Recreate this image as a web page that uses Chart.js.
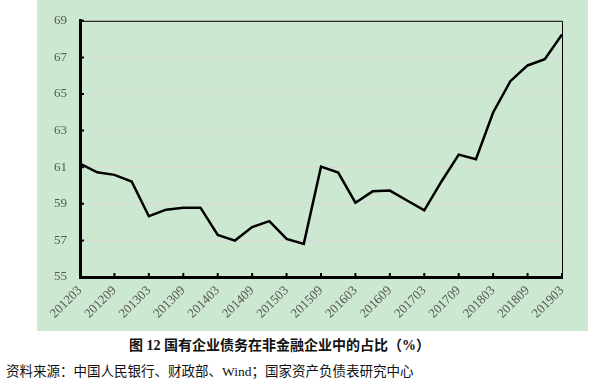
<!DOCTYPE html>
<html>
<head>
<meta charset="utf-8">
<script src="https://cdn.jsdelivr.net/npm/chart.js@4"></script>
<style>
  body { margin: 0; width: 616px; height: 386px; background: #fff; position: relative; overflow: hidden; }
  #box { position: absolute; left: 37px; top: 0; width: 551px; height: 331px; background: #cde8d0; }
  #cap { position: absolute; left: 129px; top: 334px; font: bold 14px "Liberation Serif", "Noto Sans CJK SC"; color: #111; white-space: nowrap; }
  #src { position: absolute; left: 6px; top: 360px; font: 13.5px "Liberation Serif", "Noto Sans CJK SC"; color: #111; white-space: nowrap; }
</style>
</head>
<body>
<div id="box"><canvas id="shareChart" width="551" height="331"></canvas></div>
<div id="cap">图 12 国有企业债务在非金融企业中的占比（%）</div>
<div id="src">资料来源：中国人民银行、财政部、Wind；国家资产负债表研究中心</div>
<script>
// quarterly, 201203 .. 201903
const quarters = [
  "201203", "201206", "201209", "201212", "201303", "201306", "201309", "201312",
  "201403", "201406", "201409", "201412", "201503", "201506", "201509", "201512",
  "201603", "201606", "201609", "201612", "201703", "201706", "201709", "201712",
  "201803", "201806", "201809", "201812", "201903"
];
const soeShare = [
  61.2, 60.72, 60.58, 60.22, 58.32, 58.68, 58.79, 58.79,
  57.3, 56.99, 57.73, 58.05, 57.08, 56.81, 61.03, 60.71,
  59.06, 59.68, 59.72, 59.18, 58.64, 60.22, 61.69, 61.44,
  63.99, 65.7, 66.56, 66.9, 68.25
];
const yMin = 55, yMax = 69, yStep = 2;

// thin top/right frame + short inward tick marks
const frame = {
  id: 'frame',
  afterDatasetsDraw(chart) {
    const { ctx, chartArea: a, scales } = chart;
    ctx.save();
    ctx.strokeStyle = '#000';
    ctx.lineWidth = 1;
    ctx.beginPath();
    ctx.moveTo(a.left, a.top + 0.5);
    ctx.lineTo(a.right + 0.5, a.top + 0.5);
    ctx.lineTo(a.right + 0.5, a.bottom);
    ctx.stroke();
    ctx.lineWidth = 2;
    ctx.beginPath();
    for (let v = yMin; v <= yMax; v += yStep) {
      const y = scales.y.getPixelForValue(v);
      ctx.moveTo(a.left, y);
      ctx.lineTo(a.left + 4, y);
    }
    for (let i = 0; i < quarters.length; i += 2) {
      const x = scales.x.getPixelForValue(i);
      ctx.moveTo(x, a.bottom);
      ctx.lineTo(x, a.bottom - 4);
    }
    ctx.stroke();
    ctx.restore();
  }
};

new Chart(document.getElementById('shareChart'), {
  type: 'line',
  data: {
    labels: quarters,
    datasets: [{
      data: soeShare,
      borderColor: '#000',
      borderWidth: 2.5,
      pointRadius: 0,
      tension: 0,
      fill: false
    }]
  },
  options: {
    responsive: false,
    animation: false,
    layout: { padding: { top: 17, right: 26, left: 0, bottom: 0 } },
    plugins: { legend: { display: false }, tooltip: { enabled: false } },
    scales: {
      x: {
        offset: false,
        grid: { display: false, drawTicks: false },
        border: { color: '#000', width: 3 },
        ticks: {
          autoSkip: false,
          maxRotation: 45,
          minRotation: 45,
          padding: 6,
          color: '#555',
          font: { family: 'Liberation Serif', size: 13 },
          callback: (v, i) => (i % 2 === 0 ? quarters[i] : '')
        },
        afterFit: s => { s.height = 54; }
      },
      y: {
        min: yMin,
        max: yMax,
        grid: { color: '#d9d9d9', lineWidth: 1, drawTicks: false },
        border: { color: '#000', width: 3 },
        ticks: {
          stepSize: yStep,
          padding: 13,
          color: '#555',
          font: { family: 'Liberation Serif', size: 13 }
        },
        afterFit: s => { s.width = 43; }
      }
    }
  },
  plugins: [frame]
});
</script>
</body>
</html>
